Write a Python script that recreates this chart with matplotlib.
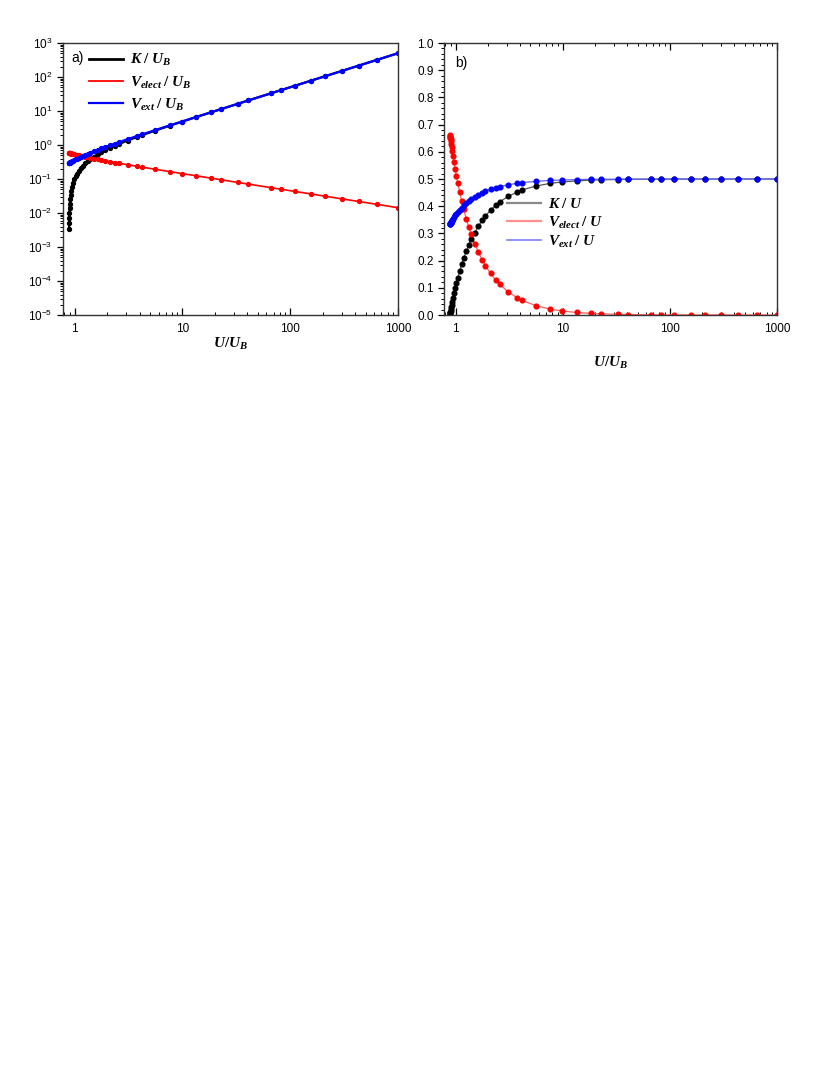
import matplotlib
matplotlib.use("Agg")
import matplotlib.pyplot as plt
from matplotlib.lines import Line2D
from matplotlib.ticker import FixedLocator, FixedFormatter, LogLocator, MultipleLocator, NullFormatter

plt.rcParams['font.family'] = ['Liberation Sans', 'DejaVu Sans']
plt.rcParams['mathtext.fontset'] = 'custom'
plt.rcParams['mathtext.it'] = 'Liberation Serif:italic:bold'
plt.rcParams['mathtext.rm'] = 'Liberation Serif:bold'
plt.rcParams['mathtext.bf'] = 'Liberation Serif:italic:bold'
plt.rcParams['mathtext.sf'] = 'Liberation Sans'

# U / U_B at each computed point
u_ratio = [0.8885, 0.890, 0.892, 0.895, 0.899, 0.904, 0.911, 0.920, 0.932, 0.948, 0.968, 0.993,
           1.02, 1.05, 1.09, 1.14, 1.19, 1.26, 1.33, 1.40, 1.51, 1.63, 1.77, 1.90, 2.12,
           2.36, 2.58, 3.10, 3.75, 4.20, 5.60, 7.65, 9.84, 13.5, 18.4, 22.6,
           33, 41, 66, 83, 110, 156, 212, 303, 432, 644, 1000]

# panel a) energies in units of U_B
k_ub = [0.00349, 0.00497, 0.00695, 0.00989, 0.0138, 0.0186, 0.0253, 0.0337, 0.0448, 0.0592, 0.0767, 0.098,
        0.12, 0.144, 0.175, 0.212, 0.248, 0.296, 0.343, 0.389, 0.458, 0.532, 0.615, 0.691, 0.817,
        0.951, 1.07, 1.35, 1.70, 1.93, 2.66, 3.70, 4.81, 6.66, 9.12, 11.2,
        16.4, 20.5, 33.0, 41.5, 55.0, 78.0, 106, 151, 216, 322, 500]
vel_ub = [0.588, 0.587, 0.585, 0.583, 0.581, 0.578, 0.574, 0.568, 0.562, 0.553, 0.543, 0.531,
          0.52, 0.508, 0.494, 0.477, 0.463, 0.445, 0.429, 0.415, 0.396, 0.377, 0.359, 0.345, 0.324,
          0.305, 0.290, 0.263, 0.238, 0.224, 0.193, 0.165, 0.145, 0.124, 0.106, 0.0954,
          0.0789, 0.0708, 0.0558, 0.0498, 0.0432, 0.0363, 0.0311, 0.0260, 0.0218, 0.0179, 0.0143]
vext_ub = [0.297, 0.298, 0.300, 0.302, 0.304, 0.308, 0.312, 0.318, 0.326, 0.336, 0.348, 0.364,
           0.38, 0.398, 0.422, 0.451, 0.479, 0.519, 0.558, 0.596, 0.656, 0.721, 0.795, 0.864, 0.979,
           1.10, 1.22, 1.48, 1.82, 2.04, 2.75, 3.78, 4.88, 6.72, 9.17, 11.3,
           16.5, 20.5, 33.0, 41.5, 55.0, 78.0, 106, 151.5, 216, 322, 500]

# panel b) fractions of the total energy U
k_u = [0.0039, 0.0056, 0.0078, 0.0111, 0.0153, 0.0206, 0.0278, 0.0367, 0.0481, 0.0625, 0.0793, 0.0986,
       0.118, 0.137, 0.16, 0.186, 0.208, 0.235, 0.258, 0.278, 0.303, 0.326, 0.348, 0.364, 0.385,
       0.403, 0.416, 0.436, 0.452, 0.46, 0.474, 0.484, 0.489, 0.493, 0.496, 0.497,
       0.498, 0.499, 0.499, 0.4996, 0.4997, 0.4998, 0.4999, 0.4999, 0.5, 0.5, 0.5]
vel_u = [0.661, 0.659, 0.656, 0.652, 0.646, 0.639, 0.63, 0.618, 0.603, 0.583, 0.561, 0.535,
         0.51, 0.484, 0.453, 0.419, 0.389, 0.353, 0.323, 0.296, 0.262, 0.232, 0.203, 0.181, 0.153,
         0.129, 0.113, 0.0849, 0.0634, 0.0534, 0.0345, 0.0215, 0.0147, 0.0092, 0.0058, 0.0042,
         0.0024, 0.0017, 0.00085, 0.0006, 0.00039, 0.00023, 0.00015, 0.00009, 0.00005, 0.00003, 0.00001]
vext_u = [0.335, 0.335, 0.336, 0.337, 0.338, 0.34, 0.343, 0.346, 0.349, 0.354, 0.36, 0.366,
          0.373, 0.379, 0.387, 0.395, 0.403, 0.412, 0.419, 0.426, 0.434, 0.442, 0.449, 0.455, 0.462,
          0.468, 0.472, 0.479, 0.484, 0.487, 0.491, 0.495, 0.496, 0.498, 0.499, 0.499,
          0.4994, 0.4996, 0.4998, 0.4999, 0.4999, 0.4999, 0.5, 0.5, 0.5, 0.5, 0.5]

x_ticks = [1, 10, 100, 1000]
x_labels = ['1', '10', '100', '1000']
y_exps = [-5, -4, -3, -2, -1, 0, 1, 2, 3]

labels_a = [r'$K\;/\;U_B$', r'$V_{elect}\;/\;U_B$', r'$V_{ext}\;/\;U_B$']
labels_b = [r'$K\;/\;U$', r'$V_{elect}\;/\;U$', r'$V_{ext}\;/\;U$']

fig = plt.figure(figsize=(8.30, 10.75), dpi=100)
ax1 = fig.add_axes([63 / 830, 1 - 315 / 1075, 335 / 830, 272 / 1075])
ax2 = fig.add_axes([444 / 830, 1 - 315 / 1075, 333 / 830, 272 / 1075])

# ---- a) ----
ax1.plot(u_ratio, k_ub, '-o', color='black', lw=1.6, ms=2.8)
ax1.plot(u_ratio, vel_ub, '-o', color='red', lw=1.2, ms=2.8)
ax1.plot(u_ratio, vext_ub, '-o', color='blue', lw=1.6, ms=2.8)
ax1.set_xscale('log')
ax1.set_yscale('log')
ax1.set_xlim(0.78, 1000)
ax1.set_ylim(1e-5, 1e3)
ax1.yaxis.set_major_locator(FixedLocator([10.0 ** e for e in y_exps]))
ax1.yaxis.set_major_formatter(FixedFormatter([r'$\mathsf{10^{%d}}$' % e for e in y_exps]))
ax1.yaxis.set_minor_locator(LogLocator(base=10, subs=range(2, 10), numticks=20))
ax1.yaxis.set_minor_formatter(NullFormatter())
ax1.text(0.026, 0.945, 'a)', transform=ax1.transAxes, fontsize=10, va='center', ha='left')
handles_a = [Line2D([], [], color='black', lw=2.0),
             Line2D([], [], color='red', lw=1.3),
             Line2D([], [], color='blue', lw=1.6)]
ax1.legend(handles_a, labels_a, loc='upper left', bbox_to_anchor=(0.078, 0.966), frameon=False,
           fontsize=11, handlelength=2.2, handletextpad=0.5, labelspacing=0.4,
           borderpad=0, borderaxespad=0)
ax1.set_xlabel(r'$U/U_B$', fontsize=11)
ax1.xaxis.set_label_coords(0.5, -0.075)

# ---- b) ----
ax2.plot(u_ratio, k_u, '-', color='#555555', lw=0.9)
ax2.plot(u_ratio, vel_u, '-', color='#ff6060', lw=0.9)
ax2.plot(u_ratio, vext_u, '-', color='#6060ff', lw=0.9)
ax2.plot(u_ratio, k_u, 'o', color='black', ms=3.4)
ax2.plot(u_ratio, vel_u, 'o', color='red', ms=3.4)
ax2.plot(u_ratio, vext_u, 'o', color='blue', ms=3.4)
ax2.set_xscale('log')
ax2.set_xlim(0.78, 1000)
ax2.set_ylim(0, 1.0)
ax2.yaxis.set_major_locator(FixedLocator([i / 10 for i in range(11)]))
ax2.yaxis.set_major_formatter(FixedFormatter(['%.1f' % (i / 10) for i in range(11)]))
ax2.yaxis.set_minor_locator(MultipleLocator(0.02))
ax2.text(0.033, 0.926, 'b)', transform=ax2.transAxes, fontsize=10, va='center', ha='left')
handles_b = [Line2D([], [], color='#8a8a8a', lw=1.6),
             Line2D([], [], color='#ff9090', lw=1.6),
             Line2D([], [], color='#8080ff', lw=1.2)]
ax2.legend(handles_b, labels_b, loc='upper left', bbox_to_anchor=(0.189, 0.432), frameon=False,
           fontsize=11, handlelength=2.2, handletextpad=0.5, labelspacing=0.2,
           borderpad=0, borderaxespad=0)
ax2.set_xlabel(r'$U/U_B$', fontsize=11)
ax2.xaxis.set_label_coords(0.5, -0.145)

for ax in (ax1, ax2):
    ax.xaxis.set_major_locator(FixedLocator(x_ticks))
    ax.xaxis.set_major_formatter(FixedFormatter(x_labels))
    ax.xaxis.set_minor_locator(LogLocator(base=10, subs=range(2, 10), numticks=20))
    ax.xaxis.set_minor_formatter(NullFormatter())
    ax.tick_params(axis='x', which='both', direction='in', labelsize=8.5, pad=6)
    ax.tick_params(axis='x', which='major', length=5, width=0.9)
    ax.tick_params(axis='x', which='minor', length=2.5, width=0.7)
    ax.tick_params(axis='y', which='both', direction='out', labelsize=8.5)
    ax.tick_params(axis='y', which='major', length=4, width=0.9)
    ax.tick_params(axis='y', which='minor', length=2, width=0.7)
    for s in ax.spines.values():
        s.set_linewidth(1.0)
        s.set_color('#333333')

ax2.tick_params(axis='x', which='both', top=True)

fig.savefig('out.png', dpi=100)
